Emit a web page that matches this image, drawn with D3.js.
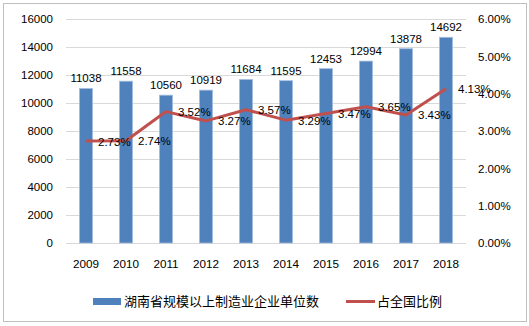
<!DOCTYPE html>
<html><head><meta charset="utf-8">
<script src="https://cdn.jsdelivr.net/npm/d3@7"></script>
<style>
html,body{margin:0;padding:0;background:#fff;}
text{font-family:"Liberation Sans",Arial,sans-serif;fill:#000;}
.cjk{font-family:"Noto Sans CJK SC",sans-serif;}
</style></head>
<body>
<svg id="c" width="529" height="326"></svg>
<script>
const years = ["2009","2010","2011","2012","2013","2014","2015","2016","2017","2018"];
const counts = [11038,11558,10560,10919,11684,11595,12453,12994,13878,14692];
const shares = [2.73,2.74,3.52,3.27,3.57,3.29,3.47,3.65,3.43,4.13];
const leftTicks = [0,2000,4000,6000,8000,10000,12000,14000,16000];
const rightTicks = [0,1,2,3,4,5,6];
const seriesNames = ["湖南省规模以上制造业企业单位数","占全国比例"];

const svg = d3.select("#c");
svg.append("rect").attr("x",3.5).attr("y",3.5).attr("width",523).attr("height",318)
  .attr("fill","#fff").attr("stroke","#BFBFBF").attr("stroke-width",1);

const L=66,R=466,T=19,B=243;
const x = d3.scaleBand().domain(years).range([L,R]).paddingInner(0.67).paddingOuter(0.335);
const xc = d3.scalePoint().domain(years).range([L+20,R-20]);
const yL = d3.scaleLinear().domain([0,16000]).range([B,T]);
const yR = d3.scaleLinear().domain([0,6]).range([B,T]);

// gridlines
svg.append("g").selectAll("line").data(leftTicks).join("line")
  .attr("x1",L).attr("x2",R).attr("y1",d=>Math.round(yL(d))+0.5).attr("y2",d=>Math.round(yL(d))+0.5)
  .attr("stroke","#D9D9D9").attr("stroke-width",1);

// left axis
const la = svg.append("g").attr("transform",`translate(${L},0)`)
  .call(d3.axisLeft(yL).tickValues(leftTicks).tickSize(0).tickPadding(13).tickFormat(d3.format("d")));
la.select(".domain").remove();
la.selectAll("text").attr("font-size","11.5px").style("font-family","Liberation Sans, Arial");

// right axis
const ra = svg.append("g").attr("transform",`translate(${R},0)`)
  .call(d3.axisRight(yR).tickValues(rightTicks).tickSize(0).tickPadding(12).tickFormat(d=>d.toFixed(2)+"%"));
ra.select(".domain").remove();
ra.selectAll("text").attr("font-size","11.5px").style("font-family","Liberation Sans, Arial");

// bottom axis
const ba = svg.append("g").attr("transform",`translate(0,${B})`)
  .call(d3.axisBottom(x).tickSize(0).tickPadding(17));
ba.select(".domain").remove();
ba.selectAll("text").attr("font-size","11.7px").style("font-family","Liberation Sans, Arial");

// bars
svg.append("g").selectAll("rect").data(counts).join("rect")
  .attr("x",(d,i)=>x(years[i])).attr("width",x.bandwidth())
  .attr("y",d=>yL(d)).attr("height",d=>B-yL(d))
  .attr("fill","#4F81BD").attr("stroke","#A7BFDE").attr("stroke-width",0.8);

// bar labels
svg.append("g").selectAll("text").data(counts).join("text")
  .attr("x",(d,i)=>xc(years[i])).attr("y",d=>yL(d)-6)
  .attr("text-anchor","middle").attr("font-size","11.5px").text(d=>d);

// line
const line = d3.line().x((d,i)=>xc(years[i])).y(d=>yR(d));
svg.append("path").datum(shares).attr("d",line).attr("fill","none")
  .attr("stroke","#C0504D").attr("stroke-width",3).attr("stroke-linejoin","round");

// line labels
svg.append("g").selectAll("text").data(shares).join("text")
  .attr("x",(d,i)=>xc(years[i])+12).attr("y",d=>yR(d)+1.5)
  .attr("dominant-baseline","middle").attr("font-size","11.5px").text(d=>d.toFixed(2)+"%");

// legend
const lg = svg.append("g");
lg.append("rect").attr("x",93).attr("y",298).attr("width",28).attr("height",7).attr("fill","#4F81BD");
lg.append("text").attr("class","cjk").attr("x",124).attr("y",302).attr("dominant-baseline","middle")
  .attr("font-size","13px").text(seriesNames[0]);
lg.append("line").attr("x1",346).attr("x2",375).attr("y1",301.5).attr("y2",301.5)
  .attr("stroke","#C0504D").attr("stroke-width",3);
lg.append("text").attr("class","cjk").attr("x",377).attr("y",302).attr("dominant-baseline","middle")
  .attr("font-size","13px").text(seriesNames[1]);
</script>
</body></html>
